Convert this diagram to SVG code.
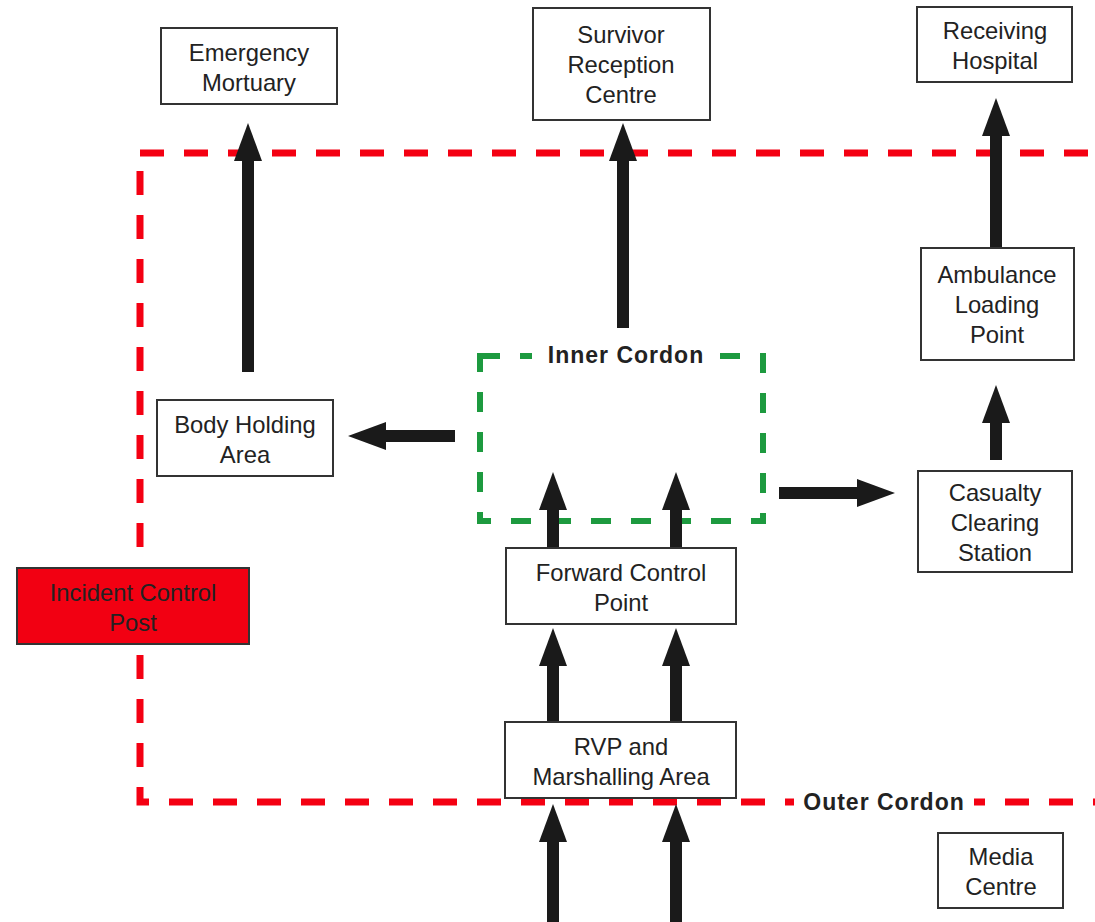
<svg xmlns="http://www.w3.org/2000/svg" width="1095" height="922" viewBox="0 0 1095 922">
<style>
.box{fill:#fff;stroke:#333;stroke-width:2}
.t{font-family:"Liberation Sans",Arial,sans-serif;font-size:23.8px;fill:#222;text-anchor:middle}
.b{font-family:"Liberation Sans",Arial,sans-serif;font-size:23px;letter-spacing:1px;font-weight:bold;fill:#222;text-anchor:middle}
.arr{stroke:#1a1a1a;stroke-width:12;fill:none;marker-end:url(#ah)}
</style>
<defs>
<marker id="ah" markerWidth="38" markerHeight="28" refX="0" refY="14" orient="auto" markerUnits="userSpaceOnUse">
<path d="M0,0 L38,14 L0,28 Z" fill="#1a1a1a"/>
</marker>
</defs>
<rect width="1095" height="922" fill="#fff"/>
<g id="outer-cordon">
<rect x="140" y="153" width="1000" height="649" fill="none" stroke="#f40012" stroke-width="7" stroke-dasharray="24 20"/>
<rect x="794" y="789" width="180" height="26" fill="#fff"/>
<text class="b" x="884" y="810">Outer Cordon</text>
</g>
<g id="inner-cordon">
<rect x="480" y="356" width="283" height="165" fill="none" stroke="#1d9a3f" stroke-width="6" stroke-dasharray="20 20"/>
<rect x="532" y="342" width="186" height="28" fill="#fff"/>
<text class="b" x="626" y="363">Inner Cordon</text>
</g>
<g id="connectors">
<line class="arr" x1="248" y1="372" x2="248" y2="161"/>
<line class="arr" x1="623" y1="328" x2="623" y2="161"/>
<line class="arr" x1="996" y1="247" x2="996" y2="136"/>
<line class="arr" x1="996" y1="460" x2="996" y2="423"/>
<line class="arr" x1="455" y1="436" x2="386" y2="436"/>
<line class="arr" x1="779" y1="493" x2="857" y2="493"/>
<line class="arr" x1="553" y1="548" x2="553" y2="510"/>
<line class="arr" x1="676" y1="548" x2="676" y2="510"/>
<line class="arr" x1="553" y1="722" x2="553" y2="666"/>
<line class="arr" x1="676" y1="722" x2="676" y2="666"/>
<line class="arr" x1="553" y1="922" x2="553" y2="842"/>
<line class="arr" x1="676" y1="922" x2="676" y2="842"/>
</g>
<g id="emergency-mortuary">
<rect class="box" x="161" y="28" width="176" height="76"/>
<text class="t" x="249" y="61">Emergency</text>
<text class="t" x="249" y="91">Mortuary</text>
</g>
<g id="survivor-reception-centre">
<rect class="box" x="533" y="8" width="177" height="112"/>
<text class="t" x="621" y="43">Survivor</text>
<text class="t" x="621" y="73">Reception</text>
<text class="t" x="621" y="103">Centre</text>
</g>
<g id="receiving-hospital">
<rect class="box" x="917" y="7" width="155" height="75"/>
<text class="t" x="995" y="39">Receiving</text>
<text class="t" x="995" y="69">Hospital</text>
</g>
<g id="ambulance-loading-point">
<rect class="box" x="921" y="248" width="153" height="112"/>
<text class="t" x="997" y="283">Ambulance</text>
<text class="t" x="997" y="313">Loading</text>
<text class="t" x="997" y="343">Point</text>
</g>
<g id="body-holding-area">
<rect class="box" x="157" y="400" width="176" height="76"/>
<text class="t" x="245" y="433">Body Holding</text>
<text class="t" x="245" y="463">Area</text>
</g>
<g id="casualty-clearing-station">
<rect class="box" x="918" y="471" width="154" height="101"/>
<text class="t" x="995" y="501">Casualty</text>
<text class="t" x="995" y="531">Clearing</text>
<text class="t" x="995" y="561">Station</text>
</g>
<g id="forward-control-point">
<rect class="box" x="506" y="548" width="230" height="76"/>
<text class="t" x="621" y="581">Forward Control</text>
<text class="t" x="621" y="611">Point</text>
</g>
<g id="rvp-marshalling-area">
<rect class="box" x="505" y="722" width="231" height="76"/>
<text class="t" x="621" y="755">RVP and</text>
<text class="t" x="621" y="785">Marshalling Area</text>
</g>
<g id="incident-control-post">
<rect x="17" y="568" width="232" height="76" fill="#f20012" stroke="#333" stroke-width="2"/>
<text class="t" x="133" y="601">Incident Control</text>
<text class="t" x="133" y="631">Post</text>
</g>
<g id="media-centre">
<rect class="box" x="938" y="833" width="125" height="75"/>
<text class="t" x="1001" y="865">Media</text>
<text class="t" x="1001" y="895">Centre</text>
</g>
</svg>
